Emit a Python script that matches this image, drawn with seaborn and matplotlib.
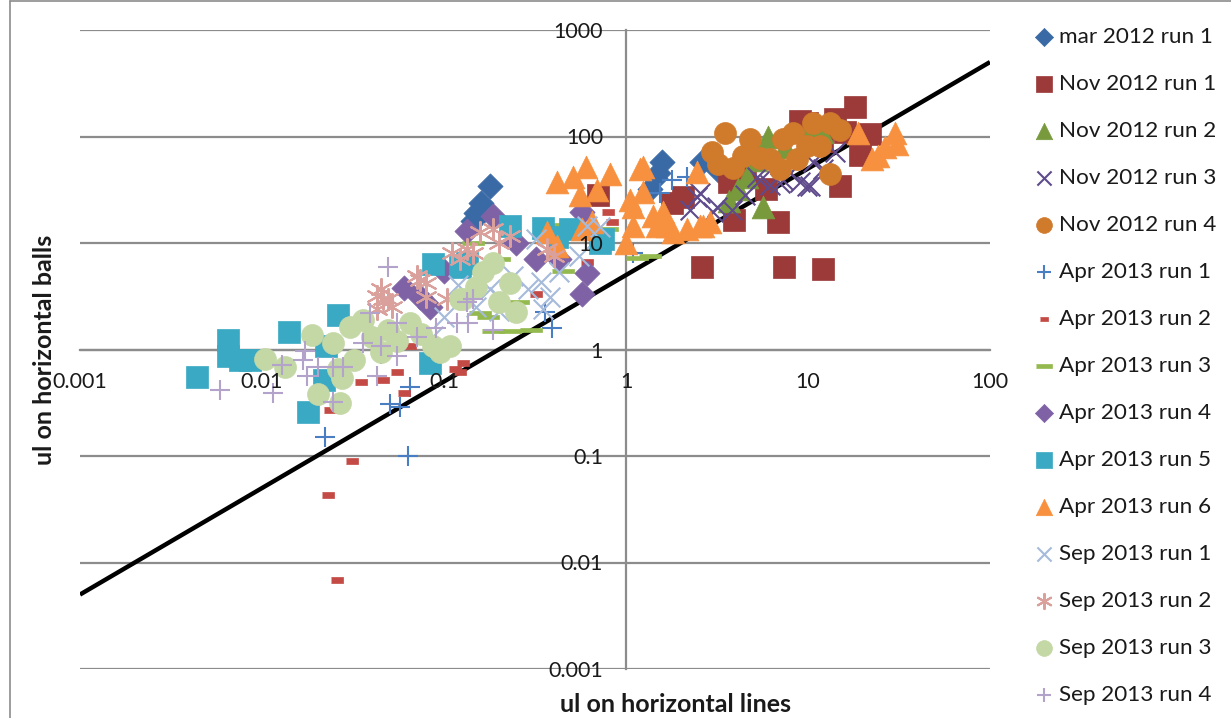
import numpy as np
import matplotlib
matplotlib.use("Agg")
import matplotlib.pyplot as plt
from matplotlib.lines import Line2D
import seaborn as sns

# values (x = ul on lines, y = ul on balls)
mar12_r1_x = [0.18, 0.16, 0.15, 0.145, 1.45, 1.58, 1.35, 1.5, 2.6, 3.2]
mar12_r1_y = [34, 24, 19, 16, 41, 57, 32, 45, 58, 48]

nov12_r1_x = [0.70, 1.8, 2.06, 2.6, 3.7, 3.9, 5.9, 6.8, 7.4, 9.0, 9.9, 12.1, 14.1, 15, 18.1, 19.2, 21.9, 4.5, 12, 16]
nov12_r1_y = [28.5, 24, 27, 6.0, 37, 16.6, 32, 15.6, 6.0, 139, 135, 5.65, 145, 34, 191, 67, 105, 45, 90, 110]

nov12_r2_x = [3.7, 4.1, 4.6, 5.66, 5.2, 6.0, 7.5, 10.3, 12]
nov12_r2_y = [25, 32, 42, 22, 60, 100, 80, 124, 110]

nov12_r3_x = [2.25, 2.45, 2.55, 3.0, 3.16, 3.82, 4.5, 5.25, 5.45, 6.2, 7.0, 7.3, 8.0, 9.0, 9.9, 10.3, 10.6, 12.1, 14]
nov12_r3_y = [20.6, 26.8, 29.6, 19.4, 22, 20.6, 28, 42, 39.4, 35, 36.9, 39, 45, 37, 34, 34, 57, 49, 71]

nov12_r4_x = [2.97, 3.2, 3.5, 3.87, 4.4, 4.8, 5.45, 6.2, 7.0, 7.3, 8.3, 8.7, 9.9, 10.6, 11.6, 13.2, 13.2, 15]
nov12_r4_y = [72, 55, 109, 51, 65, 94, 63, 61, 49, 94, 109, 61, 81, 135, 81, 44, 135, 116]

apr13_r1_x = [0.0222, 0.0505, 0.0574, 0.065, 0.0634, 0.36, 0.39, 1.09, 1.54, 1.79, 2.16, 0.045]
apr13_r1_y = [0.152, 0.305, 0.286, 0.44, 0.1, 2.27, 1.6, 8.0, 29.6, 39.4, 42, 0.9]

apr13_r2_x = [0.0237, 0.0231, 0.0259, 0.0312, 0.046, 0.055, 0.057, 0.06, 0.065, 0.115, 0.122, 0.127, 0.32, 0.61, 0.80, 0.84, 0.035, 0.09]
apr13_r2_y = [0.27, 0.0435, 0.0069, 0.089, 0.52, 0.61, 1.16, 0.39, 1.07, 0.65, 0.62, 0.75, 3.3, 6.7, 19.7, 15.6, 0.5, 0.85]

apr13_r3_x = [0.145, 0.158, 0.175, 0.186, 0.23, 0.255, 0.3, 0.38, 0.51, 0.79, 1.15, 1.35, 0.2, 0.45]
apr13_r3_y = [10, 2.2, 2.04, 1.48, 1.48, 2.77, 1.54, 14.9, 15.6, 13.4, 7.3, 7.5, 7.0, 5.5]

apr13_r4_x = [0.06, 0.074, 0.084, 0.134, 0.186, 0.32, 0.43, 0.57, 0.57, 0.61, 0.1, 0.25]
apr13_r4_y = [3.8, 3.1, 2.5, 13, 18, 7, 7, 19.4, 3.3, 5.2, 5.5, 10]

apr13_r5_x = [0.0044, 0.0065, 0.0065, 0.0076, 0.0086, 0.014, 0.0179, 0.0218, 0.0226, 0.026, 0.084, 0.087, 0.122, 0.134, 0.23, 0.35, 0.42, 0.49, 0.72, 0.75]
apr13_r5_y = [0.557, 1.24, 0.86, 0.8, 0.8, 1.45, 0.26, 0.52, 1.07, 2.13, 0.75, 6.3, 6.0, 6.5, 14.3, 13.9, 11.3, 13.4, 10, 10.8]

apr13_r6_x = [0.37, 0.42, 0.42, 0.51, 0.56, 0.57, 0.60, 0.65, 0.69, 0.82, 1.0, 1.05, 1.09, 1.09, 1.19, 1.24, 1.24,
              1.41, 1.48, 1.6, 1.68, 1.81, 2.16, 2.45, 2.55, 2.65, 2.9, 18.8, 22.4, 24.2, 26.4, 30, 30.7]
apr13_r6_y = [12.6, 37, 9.3, 42, 28.5, 13.4, 52, 15.6, 31.7, 44, 10, 25.5, 14.3, 22, 49, 52, 30,
              17.8, 14.3, 19.4, 14.3, 12.6, 13.4, 46, 14.3, 14.3, 15.6, 109, 61, 65, 79, 109, 85]

sep13_r1_x = [0.087, 0.1, 0.15, 0.18, 0.2, 0.24, 0.29, 0.32, 0.34, 0.35, 0.38, 0.43, 0.55, 0.61, 0.72, 0.12, 0.2]
sep13_r1_y = [1.35, 2.04, 2.5, 3.66, 3.1, 4.9, 3.66, 10.8, 4.3, 2.4, 3.1, 5.3, 7.5, 14.3, 14, 4.0, 2.3]

sep13_r2_x = [0.0428, 0.043, 0.045, 0.046, 0.049, 0.052, 0.071, 0.074, 0.08, 0.08, 0.104, 0.11, 0.122, 0.134,
              0.145, 0.158, 0.186, 0.2, 0.23, 0.37, 0.4]
sep13_r2_y = [3.15, 2.4, 3.66, 2.95, 2.95, 2.5, 4.85, 4.5, 4.25, 3.1, 2.95, 8.1, 7.0, 8.7,
              8.1, 12.6, 13.4, 10, 11.6, 8.7, 7.5]

sep13_r3_x = [0.0104, 0.0133, 0.0189, 0.0203, 0.0245, 0.026, 0.0268, 0.0276, 0.0305, 0.032, 0.036, 0.045, 0.049, 0.065,
              0.087, 0.095, 0.108, 0.122, 0.127, 0.15, 0.164, 0.186, 0.2, 0.23, 0.25, 0.04, 0.055, 0.075]
sep13_r3_y = [0.806, 0.68, 1.38, 0.38, 1.16, 0.65, 0.317, 0.545, 1.64, 0.8, 1.91, 0.94, 1.54, 1.79,
              1.07, 0.94, 1.07, 2.95, 2.95, 3.9, 5.3, 6.5, 2.77, 4.25, 2.27, 1.3, 1.2, 1.4]

sep13_r4_x = [0.0059, 0.0115, 0.0128, 0.0168, 0.0172, 0.0176, 0.0203, 0.0245, 0.0245, 0.028, 0.036, 0.039, 0.043,
              0.045, 0.049, 0.055, 0.055, 0.071, 0.118, 0.134, 0.135, 0.145, 0.186, 0.09]
sep13_r4_y = [0.42, 0.39, 0.71, 0.8, 0.96, 0.56, 0.69, 0.68, 0.32, 0.69, 1.16, 2.2, 0.56,
              1.07, 6.0, 1.79, 0.86, 1.32, 1.79, 2.77, 1.79, 2.95, 1.54, 1.6]

# reference line y = 5x
line_x = [0.001, 100]
line_y = [0.005, 500]

tick_values = [0.001, 0.01, 0.1, 1, 10, 100, 1000]
tick_labels = ["0.001", "0.01", "0.1", "1", "10", "100", "1000"]

# marker shapes for the two "dash" series
short_dash = [(-1, -0.5), (1, -0.5), (1, 0.5), (-1, 0.5)]
long_dash = [(-1, -0.22), (1, -0.22), (1, 0.22), (-1, 0.22)]

series = [
    ("mar 2012 run 1", mar12_r1_x, mar12_r1_y, "D", "#3A6AA6", 165, True),
    ("Nov 2012 run 1", nov12_r1_x, nov12_r1_y, "s", "#9B3A38", 240, True),
    ("Nov 2012 run 2", nov12_r2_x, nov12_r2_y, "^", "#789A3D", 270, True),
    ("Nov 2012 run 3", nov12_r3_x, nov12_r3_y, "x", "#5F4B8B", 200, False),
    ("Nov 2012 run 4", nov12_r4_x, nov12_r4_y, "o", "#D07A2C", 250, True),
    ("Apr 2013 run 1", apr13_r1_x, apr13_r1_y, "+", "#4A7EC2", 210, False),
    ("Apr 2013 run 2", apr13_r2_x, apr13_r2_y, short_dash, "#C44A45", 75, True),
    ("Apr 2013 run 3", apr13_r3_x, apr13_r3_y, long_dash, "#94BA4F", 240, True),
    ("Apr 2013 run 4", apr13_r4_x, apr13_r4_y, "D", "#7F62A6", 165, True),
    ("Apr 2013 run 5", apr13_r5_x, apr13_r5_y, "s", "#3AA9C4", 240, True),
    ("Apr 2013 run 6", apr13_r6_x, apr13_r6_y, "^", "#F8913F", 270, True),
    ("Sep 2013 run 1", sep13_r1_x, sep13_r1_y, "x", "#A6BADB", 200, False),
    ("Sep 2013 run 2", sep13_r2_x, sep13_r2_y, (6, 2, 0), "#D9A09C", 230, False),
    ("Sep 2013 run 3", sep13_r3_x, sep13_r3_y, "o", "#C4D8A6", 250, True),
    ("Sep 2013 run 4", sep13_r4_x, sep13_r4_y, "+", "#B3A3CB", 210, False),
]

sns.set_style("white")
plt.rcParams["font.family"] = ["Lato", "DejaVu Sans"]

fig = plt.figure(figsize=(12.31, 7.18), dpi=100)
ax = fig.add_axes([80 / 1231, 1 - 669 / 718, 910 / 1231, 639 / 718])

for yv in tick_values:
    ax.axhline(yv, color="#8C8C8C", lw=1.6, zorder=0)

ax.plot(line_x, line_y, color="black", lw=3.2, zorder=1.5, solid_capstyle="butt")

for label, xs, ys, marker, color, size, filled in series:
    if filled:
        sns.scatterplot(x=xs, y=ys, ax=ax, marker=marker, s=size, color=color,
                        edgecolor=color, linewidth=0.5, label=label, legend=False, zorder=3)
    else:
        sns.scatterplot(x=xs, y=ys, ax=ax, marker=marker, s=size, color=color,
                        edgecolor=None, linewidth=1.5, label=label, legend=False, zorder=3)

ax.set_xscale("log")
ax.set_yscale("log")
ax.set_xlim(0.001, 100)
ax.set_ylim(0.001, 1000)
ax.set_xticks(tick_values[:-1])
ax.set_xticklabels(tick_labels[:-1])
ax.set_yticks(tick_values)
ax.set_yticklabels(tick_labels)
ax.minorticks_off()
ax.set_xlabel("")
ax.set_ylabel("")

for side in ["top", "right"]:
    ax.spines[side].set_visible(False)
ax.spines["left"].set_position(("data", 1))
ax.spines["bottom"].set_position(("data", 1))
for side in ["left", "bottom"]:
    ax.spines[side].set_color("#8C8C8C")
    ax.spines[side].set_linewidth(1.6)
    ax.spines[side].set_zorder(0.5)

ax.tick_params(axis="both", direction="out", length=4.5, width=1.2, color="#8C8C8C",
               labelsize=15.5, labelcolor="#1a1a1a")
ax.tick_params(axis="x", pad=12)
ax.tick_params(axis="y", pad=12)
ax.xaxis.set_zorder(10)
ax.yaxis.set_zorder(10)
ax.patch.set_visible(False)

fig.text(676 / 1231, 1 - 704 / 718, "ul on horizontal lines", ha="center", va="center",
         fontsize=18, fontweight="bold", color="#1a1a1a")
fig.text(45 / 1231, 1 - 350 / 718, "ul on horizontal balls", ha="center", va="center",
         rotation=90, fontsize=18, fontweight="bold", color="#1a1a1a")

handles, labels = ax.get_legend_handles_labels()
fig.legend(handles, labels, loc="upper left", bbox_to_anchor=(1021 / 1231, 1 - 16 / 718),
           frameon=False, fontsize=16.2, labelspacing=1.2, handlelength=1.0,
           handletextpad=0.2, markerscale=0.72, borderpad=0, labelcolor="#1a1a1a")

# chart area border
fig.add_artist(Line2D([10 / 1231, 1], [1 - 1 / 718, 1 - 1 / 718], transform=fig.transFigure,
                      color="#8C8C8C", lw=1.2))
fig.add_artist(Line2D([10 / 1231, 10 / 1231], [0, 1 - 1 / 718], transform=fig.transFigure,
                      color="#8C8C8C", lw=1.2))

fig.savefig("out.png", dpi=100)
